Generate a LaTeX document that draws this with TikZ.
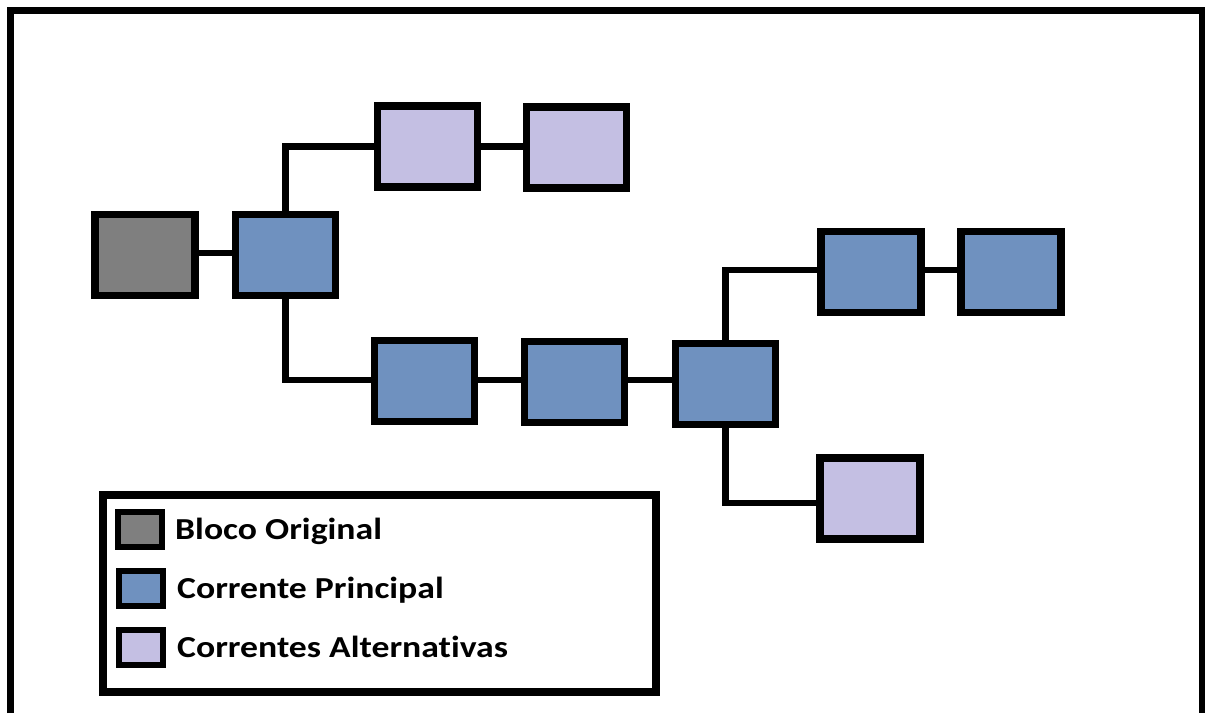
\documentclass[tikz,border=0pt]{standalone}
\usepackage{fontspec}
\setmainfont{Carlito}
\newfontfamily\legendfont[FakeStretch=1.17,Ligatures=NoCommon]{Carlito}
\definecolor{origgray}{RGB}{127,127,127}
\definecolor{mainblue}{RGB}{111,145,191}
\definecolor{altpurple}{RGB}{196,191,227}
\begin{document}
\begin{tikzpicture}[x=1pt,y=-1pt,
  blk/.style={draw=black,line width=7.5pt,minimum width=100pt,minimum height=81pt,inner sep=0pt,rectangle},
  orig/.style={blk,fill=origgray},
  mainb/.style={blk,fill=mainblue},
  alt/.style={blk,fill=altpurple},
  conn/.style={line width=6.5pt,draw=black},
  keybox/.style={draw=black,line width=6pt,minimum width=44pt,minimum height=35pt,inner sep=0pt,rectangle},
  keytext/.style={anchor=base west,inner sep=0pt,font=\legendfont\fontsize{30.5}{36}\selectfont\bfseries}
]
\useasboundingbox (0,0) rectangle (1205,713);
\fill[white] (0,0) rectangle (1205,713);
% outer frame (open at the bottom)
\draw[line width=7pt,line join=miter] (10.5,713) -- (10.5,10.5) -- (1202,10.5) -- (1202,713);

\node[orig]  (g)  at (145,255) {};
\node[mainb] (b1) at (285.5,255) {};
\node[alt]   (p1) at (427.5,146.5) {};
\node[alt]   (p2) at (576.5,147.5) {};
\node[mainb] (b2) at (424.5,381) {};
\node[mainb] (b3) at (574.5,382) {};
\node[mainb] (b4) at (725.5,384) {};
\node[mainb] (b5) at (871,272) {};
\node[mainb] (b6) at (1011,272) {};
\node[alt]   (p3) at (870,498.5) {};

\draw[conn] (g.east |- 0,253) -- (b1.west |- 0,253);
\draw[conn] (b1.north) |- (p1.west);
\draw[conn] (p1.east) -- (p2.west |- p1.east);
\draw[conn] (b1.south) |- (b2.west |- 0,380);
\draw[conn] (b2.east |- 0,380) -- (b3.west |- 0,380);
\draw[conn] (b3.east |- 0,380) -- (b4.west |- 0,380);
\draw[conn] (b4.north) |- (b5.west |- 0,270);
\draw[conn] (b5.east |- 0,270) -- (b6.west |- 0,270);
\draw[conn] (b4.south) |- (p3.west |- 0,503);

% legend
\node[draw=black,line width=8pt,minimum width=553pt,minimum height=197pt,inner sep=0pt,rectangle] (legend) at (379.5,593.5) {};
\node[keybox,fill=origgray]  (k1) at (139.5,529.5) {};
\node[keybox,fill=mainblue]  (k2) at (141,588.5) {};
\node[keybox,fill=altpurple] (k3) at (141,647.5) {};
\node[keytext] (t1) at (175,539) {Bloco Original};
\node[keytext] (t2) at (177,598) {Corrente Principal};
\node[keytext] (t3) at (177,657) {Correntes Alternativas};
\end{tikzpicture}
\end{document}
